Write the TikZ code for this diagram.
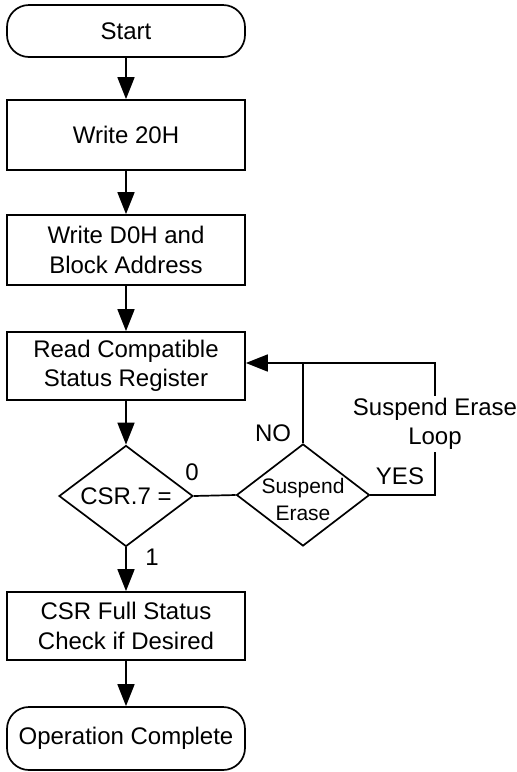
\documentclass[tikz,border=0pt]{standalone}
\usepackage{fontspec}
\setmainfont{Liberation Sans}
\usetikzlibrary{arrows.meta,shapes.geometric}
\begin{document}
\begin{tikzpicture}[x=1pt,y=-1pt,line width=1.7pt,
  txt/.style={font=\fontsize{24}{29.5}\selectfont,align=center,inner sep=0pt},
  smalltxt/.style={font=\fontsize{21}{27}\selectfont,align=center,inner sep=0pt},
  stepbox/.style={draw,rectangle,minimum width=238pt,inner sep=0pt,txt},
  term/.style={draw,rectangle,rounded corners=22pt,minimum width=238pt,inner sep=0pt,txt},
  dia/.style={draw,diamond,inner sep=0pt,minimum width=134pt,minimum height=101pt},
  arr/.style={-{Triangle[length=22pt,width=17pt]}}]
\useasboundingbox (0,0) rectangle (517,772);
\node[term,minimum height=52pt] (start) at (126,31) {Start};
\node[stepbox,minimum height=70pt] (w20) at (126,135) {Write 20H};
\node[stepbox,minimum height=70pt] (wd0) at (126,250) {Write D0H and\\Block Address};
\node[stepbox,minimum height=68pt] (read) at (126,366) {Read Compatible\\Status Register};
\node[dia] (csr) at (126,496) {};
\node[txt] at (csr) {CSR.7 =};
\node[dia,minimum width=133pt,minimum height=102pt] (susp) at (303,495) {};
\node[smalltxt] at ([yshift=-4pt]susp.center) {Suspend\\Erase};
\node[stepbox,minimum height=68pt] (full) at (126,626) {CSR Full Status\\Check if Desired};
\node[term,minimum height=63pt] (op) at (126,738.5) {Operation Complete};
\draw[arr] (start) -- (w20);
\draw[arr] (w20) -- (wd0);
\draw[arr] (wd0) -- (read);
\draw[arr] (read) -- (csr);
\draw[arr] (csr) -- (full);
\draw[arr] (full) -- (op);
\draw (csr.east) -- (susp.west);
\coordinate (tr) at (435,363);
\draw[arr] (susp.east) -| (tr) -- (read.east |- tr);
\draw (susp.north) -- (susp.north |- tr);
\node[txt,fill=white,inner sep=2pt] (loop) at (435,424) {Suspend Erase\\Loop};
\node[txt] (zero) at (192,472) {0};
\node[txt] (one) at (152,557) {1};
\node[txt] (no) at (273,433) {NO};
\node[txt] (yes) at (400,476) {YES};
\end{tikzpicture}
\end{document}
